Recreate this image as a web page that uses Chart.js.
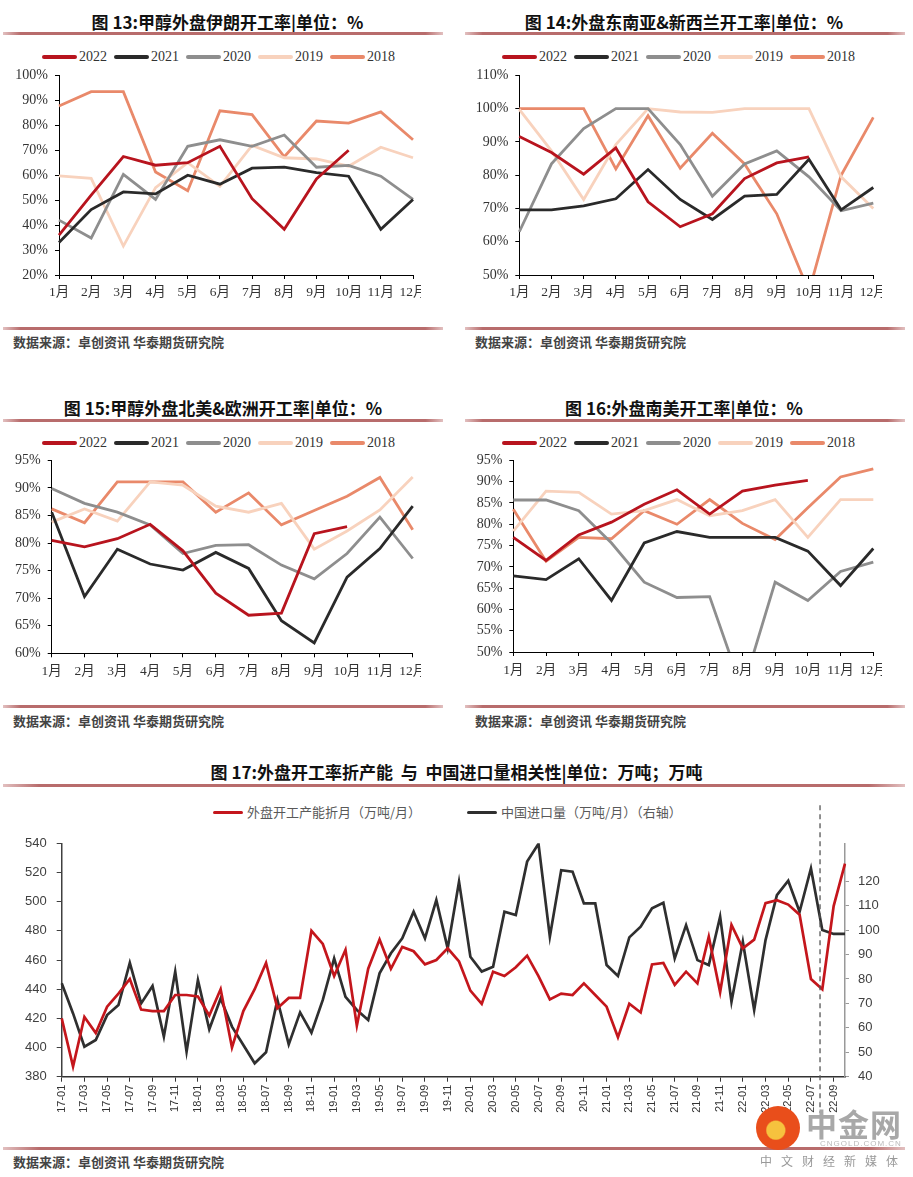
<!DOCTYPE html>
<html>
<head>
<meta charset="utf-8">
<script src="https://cdn.jsdelivr.net/npm/chart.js@4.4.1/dist/chart.umd.min.js"></script>
<style>
body{margin:0;background:#fff;}
#page{position:relative;width:913px;height:1177px;overflow:hidden;font-family:"Noto Sans CJK SC",sans-serif;}
.title{position:absolute;text-align:center;font-weight:bold;font-size:17px;color:#111;line-height:20px;white-space:nowrap}
.rule{position:absolute;height:3px;background:linear-gradient(to right,#e2c0c0,#b86c6c 4%,#b86c6c 96%,#e2c0c0)}
.src{position:absolute;font-size:13px;font-weight:bold;color:#444;white-space:nowrap;line-height:16px}
.legend{position:absolute;display:flex;align-items:center;white-space:nowrap;font-family:"Liberation Serif","Noto Sans CJK SC",serif;font-size:14px;color:#333;line-height:16px}
.legend .sw{display:inline-block;width:35px;height:3.5px;border-radius:2px;margin-right:2px}
.legend .it{display:flex;align-items:center;margin-right:7px}
#l17{font-family:"Noto Sans CJK SC",sans-serif;font-size:13px;color:#595959}
#l17 .sw{width:30px;height:3px;margin-right:4px}
#l17 .it{margin-right:46px}
canvas{position:absolute}
.wm{position:absolute;white-space:nowrap}
</style>
</head>
<body>
<div id="page">
  <div class="title" style="left:0;width:455px;top:12px">图 13:甲醇外盘伊朗开工率|单位：%</div>
  <div class="title" style="left:455px;width:458px;top:12px">图 14:外盘东南亚&amp;新西兰开工率|单位：%</div>
  <div class="rule" style="left:3px;width:440px;top:32px"></div>
  <div class="rule" style="left:465px;width:440px;top:32px"></div>
  <div class="legend" id="l13" style="left:42px;top:49px"></div>
  <div class="legend" id="l14" style="left:502px;top:49px"></div>
  <canvas id="c13"></canvas>
  <canvas id="c14"></canvas>
  <div class="rule" style="left:3px;width:440px;top:327px"></div>
  <div class="rule" style="left:465px;width:440px;top:327px"></div>
  <div class="src" style="left:13px;top:334px">数据来源：卓创资讯 华泰期货研究院</div>
  <div class="src" style="left:475px;top:334px">数据来源：卓创资讯 华泰期货研究院</div>

  <div class="title" style="left:0;width:446px;top:398px">图 15:甲醇外盘北美&amp;欧洲开工率|单位：%</div>
  <div class="title" style="left:455px;width:458px;top:398px">图 16:外盘南美开工率|单位：%</div>
  <div class="rule" style="left:3px;width:440px;top:419px"></div>
  <div class="rule" style="left:465px;width:440px;top:419px"></div>
  <div class="legend" id="l15" style="left:42px;top:435px"></div>
  <div class="legend" id="l16" style="left:502px;top:435px"></div>
  <canvas id="c15"></canvas>
  <canvas id="c16"></canvas>
  <div class="rule" style="left:3px;width:440px;top:705px"></div>
  <div class="rule" style="left:465px;width:440px;top:705px"></div>
  <div class="src" style="left:13px;top:713px">数据来源：卓创资讯 华泰期货研究院</div>
  <div class="src" style="left:475px;top:713px">数据来源：卓创资讯 华泰期货研究院</div>

  <div class="title" style="left:0;width:913px;top:762px">图 17:外盘开工率折产能&nbsp; 与&nbsp; 中国进口量相关性|单位：万吨；万吨</div>
  <div class="rule" style="left:3px;width:902px;top:784px"></div>
  <div class="legend" id="l17" style="left:213px;top:804px"></div>
  <canvas id="c17"></canvas>
  <div class="rule" style="left:3px;width:902px;top:1147px"></div>
  <div class="src" style="left:13px;top:1154px">数据来源：卓创资讯 华泰期货研究院</div>

  <div class="wm" style="left:756px;top:1106px;width:44px;height:44px;border-radius:50%;background:radial-gradient(circle at 45% 55%,#f6c23e 0 26%,#e94e1b 30%)"></div>
  <div class="wm" style="left:806px;top:1100px;font-size:31px;font-weight:bold;color:#a8a8a8;letter-spacing:1px">中金网</div>
  <div class="wm" style="left:820px;top:1139px;font-size:8px;color:#bbb;letter-spacing:1px;font-family:'Liberation Sans'">CNGOLD.COM.CN</div>
  <div class="wm" style="left:760px;top:1152px;font-size:12px;color:#999;letter-spacing:9px">中文财经新媒体</div>
</div>
<script>
// ---- data ----
var months = ["1月","2月","3月","4月","5月","6月","7月","8月","9月","10月","11月","12月"];
var years = ["2022","2021","2020","2019","2018"];
var yearColors = ["#b8141e","#2a2a2a","#8e8e8e","#f8d2bd","#e9896a"];

// 图13 伊朗
var iran2022 = [36, 52, 67.5, 64, 65, 71.6, 50.6, 38.3, 58.5, 70];
var iran2021 = [33, 46.2, 53.3, 52.5, 60, 56.4, 62.8, 63.2, 61, 59.6, 38.3, 50.3];
var iran2020 = [42, 34.8, 60.3, 50.3, 71.6, 74.2, 71.6, 76.1, 63.2, 63.9, 59.6, 50.3];
var iran2019 = [59.7, 58.7, 31.6, 55, 65, 55.5, 71.9, 67, 66.5, 63.6, 71.2, 67];
var iran2018 = [87.7, 93.5, 93.5, 61.3, 53.8, 85.8, 84.3, 67.4, 81.7, 80.9, 85.4, 74.2];

// 图14 东南亚&新西兰
var sea2022 = [91.6, 86.8, 80.3, 88.2, 72, 64.5, 68.4, 79, 83.7, 85.5];
var sea2021 = [69.6, 69.6, 70.8, 72.9, 81.7, 72.7, 66.7, 73.7, 74.2, 84.8, 69.6, 76.3];
var sea2020 = [63, 83.4, 94, 100, 100, 89.2, 73.7, 83.4, 87.3, 79.5, 69.3, 71.6];
var sea2019 = [99.8, 87.3, 72.7, 89.2, 100, 99, 98.9, 100, 100, 100, 79.5, 70];
var sea2018 = [100, 100, 100, 81.9, 97.9, 82.1, 92.6, 83.4, 68.4, 45, 80, 97.4];

// 图15 北美&欧洲
var nae2022 = [80.5, 79.3, 80.8, 83.4, 78.6, 70.9, 66.9, 67.3, 81.7, 83];
var nae2021 = [85.6, 70.3, 78.9, 76.2, 75.1, 78.3, 75.4, 65.9, 61.9, 73.8, 79, 86.7];
var nae2020 = [89.9, 87.2, 85.6, 83.3, 78.1, 79.6, 79.7, 76, 73.5, 78.1, 84.7, 77.2];
var nae2019 = [83.8, 86.2, 84, 91.1, 90.5, 86.7, 85.6, 87.2, 78.9, 82.2, 86, 92];
var nae2018 = [86.2, 83.7, 91.1, 91.1, 91.1, 85.6, 89.1, 83.3, 85.9, 88.5, 91.9, 82.4];

// 图16 南美
var sam2022 = [76.9, 71.5, 77.5, 80.5, 84.7, 88.1, 82.4, 87.8, 89.2, 90.3];
var sam2021 = [67.9, 67, 71.9, 62.1, 75.6, 78.3, 76.9, 76.9, 76.9, 73.7, 65.6, 74.3];
var sam2020 = [85.7, 85.7, 83.2, 75.6, 66.4, 62.8, 63, 41, 66.4, 62.1, 68.9, 71.1];
var sam2019 = [78.4, 87.8, 87.5, 82.4, 83.2, 85.8, 82, 83.2, 85.8, 76.9, 85.8, 85.8];
var sam2018 = [83.5, 71.3, 76.9, 76.6, 83.2, 80, 85.8, 80.2, 76.4, 83.9, 91.1, 93];

// 图17 2017-01 .. 2022-10
var months17 = [];
for (var yy = 17; yy <= 22; yy++) {
  for (var mm = 1; mm <= 12; mm++) {
    if (yy == 22 && mm > 10) break;
    months17.push(yy + "-" + (mm < 10 ? "0" + mm : mm));
  }
}
var capacity = [420, 387, 421, 410, 428, 437, 447, 426, 425, 425, 436, 436,
  435, 422, 440, 400, 425, 440, 458, 427, 434, 434, 480, 471,
  449, 467, 415, 454, 474, 454, 469, 466, 457, 460, 468, 459,
  439, 430, 452, 449, 455, 463, 449, 433, 437, 436, 444, 436,
  428, 407, 430, 424, 457, 458, 443, 452, 444, 476, 438, 484,
  468, 474, 499, 501, 498, 491, 447, 440, 497, 526];
var imports = [78.2, 65.9, 52.3, 55, 65.2, 69.3, 86.6, 70, 77.1, 56.4, 83, 50.2,
  79.5, 59.4, 72, 60.5, 53, 45.5, 50, 71.4, 53.2, 66.3, 58, 71.4,
  88.4, 72.7, 67.3, 63.2, 82.3, 90.5, 96.6, 107.5, 96.6, 112.3, 92.5, 119.8,
  89.1, 83, 85, 107.5, 106.1, 128, 135.3, 97.3, 124.5, 123.9, 110.9, 110.9,
  85.7, 81.2, 97, 101.4, 108.9, 111.2, 88.4, 102, 87.7, 85.7, 105.5, 70.7,
  95.2, 67.3, 95.9, 114.3, 120.2, 107.5, 125.2, 100, 98.4, 98.4];
var names17 = ["外盘开工产能折月（万吨/月）", "中国进口量（万吨/月）（右轴）"];
var colors17 = ["#c4161c", "#2f2f2f"];
var dividerAt = 66.8;

// ---- drawing ----
var serif = '"Liberation Serif", "Noto Sans CJK SC", serif';
var sans = '"Liberation Sans", "Noto Sans CJK SC", sans-serif';

function buildLegend(id, names, colors) {
  var el = document.getElementById(id);
  names.forEach(function(n, i) {
    var it = document.createElement("span");
    it.className = "it";
    it.innerHTML = '<span class="sw" style="background:' + colors[i] + '"></span>' + n;
    el.appendChild(it);
  });
}

function monthChart(id, box, yMin, yMax, yStep, series) {
  var cv = document.getElementById(id);
  cv.width = box.w; cv.height = box.h;
  cv.style.left = box.x + "px"; cv.style.top = box.y + "px";
  new Chart(cv, {
    type: "line",
    data: {
      labels: months,
      datasets: series.map(function(d, i) {
        return {label: years[i], data: d, borderColor: yearColors[i], backgroundColor: yearColors[i],
          borderWidth: 2.8, pointRadius: 0, tension: 0, fill: false};
      })
    },
    options: {
      responsive: false, animation: false, events: [],
      layout: {padding: {top: box.pt, right: box.pr, left: 0, bottom: 0}},
      plugins: {legend: {display: false}, tooltip: {enabled: false}},
      scales: {
        x: {
          offset: false,
          grid: {drawOnChartArea: false, tickLength: 4, color: "#000"},
          border: {color: "#000"},
          ticks: {padding: box.xp, color: "#333", font: {family: serif, size: 13.5}, maxRotation: 0, autoSkip: false},
          afterFit: function(s) { s.height = box.xh; s.paddingLeft = 0; s.paddingRight = 0; }
        },
        y: {
          min: yMin, max: yMax,
          grid: {drawOnChartArea: false, tickLength: 4, color: "#000"},
          border: {color: "#000"},
          ticks: {stepSize: yStep, padding: 7, color: "#333", font: {family: serif, size: 14},
            callback: function(v) { return v + "%"; }},
          afterFit: function(s) { s.width = box.yw; }
        }
      }
    }
  });
}

["l13", "l14", "l15", "l16"].forEach(function(id) { buildLegend(id, years, yearColors); });
buildLegend("l17", names17, colors17);

monthChart("c13", {x:0, y:60, w:421, h:245, pt:8, pr:8, yw:59, xh:30, xp:5}, 20, 100, 10,
  [iran2022, iran2021, iran2020, iran2019, iran2018]);
monthChart("c14", {x:455, y:60, w:427, h:245, pt:8, pr:8.7, yw:64.3, xh:30, xp:5}, 50, 110, 10,
  [sea2022, sea2021, sea2020, sea2019, sea2018]);
monthChart("c15", {x:0, y:445, w:421, h:245, pt:7.7, pr:8.3, yw:51.7, xh:36.7, xp:6}, 60, 95, 5,
  [nae2022, nae2021, nae2020, nae2019, nae2018]);
monthChart("c16", {x:455, y:445, w:427, h:245, pt:7.7, pr:8.7, yw:58.3, xh:38, xp:6}, 50, 95, 5,
  [sam2022, sam2021, sam2020, sam2019, sam2018]);

var dividerPlugin = {
  id: "divider",
  afterDatasetsDraw: function(chart) {
    var x = chart.scales.x.getPixelForValue(dividerAt);
    var ctx = chart.ctx;
    ctx.save();
    ctx.strokeStyle = "#555";
    ctx.lineWidth = 1.3;
    ctx.setLineDash([5, 4]);
    ctx.beginPath();
    ctx.moveTo(x, chart.chartArea.top - 38);
    ctx.lineTo(x, chart.chartArea.bottom + 36);
    ctx.stroke();
    ctx.restore();
  }
};

var c17 = document.getElementById("c17");
c17.width = 913; c17.height = 340;
c17.style.left = "0px"; c17.style.top = "790px";
new Chart(c17, {
  type: "line",
  data: {
    labels: months17,
    datasets: [
      {label: names17[0], data: capacity, yAxisID: "y", borderColor: colors17[0], backgroundColor: colors17[0],
        borderWidth: 2.7, pointRadius: 0, tension: 0},
      {label: names17[1], data: imports, yAxisID: "y1", borderColor: colors17[1], backgroundColor: colors17[1],
        borderWidth: 2.7, pointRadius: 0, tension: 0}
    ]
  },
  options: {
    responsive: false, animation: false, events: [],
    layout: {padding: {top: 53.3, left: 0, right: 0, bottom: 0}},
    plugins: {legend: {display: false}, tooltip: {enabled: false}},
    scales: {
      x: {
        offset: false,
        grid: {drawOnChartArea: false, tickLength: 5, color: "#333"},
        border: {color: "#333", width: 1.5},
        ticks: {autoSkip: false, minRotation: 90, maxRotation: 90, padding: 3, color: "#333",
          font: {family: sans, size: 11}},
        afterBuildTicks: function(s) { s.ticks = s.ticks.filter(function(t) { return t.value % 2 === 0; }); },
        afterFit: function(s) { s.height = 53.3; s.paddingLeft = 0; s.paddingRight = 0; }
      },
      y: {
        position: "left", min: 380, max: 540,
        grid: {drawOnChartArea: false, tickLength: 5, color: "#404040"},
        border: {color: "#404040", width: 1.5},
        ticks: {stepSize: 20, padding: 10, color: "#404040", font: {family: sans, size: 13}},
        afterFit: function(s) { s.width = 61.7; }
      },
      y1: {
        position: "right", min: 40, max: 135.5,
        grid: {drawOnChartArea: false, tickLength: 4, color: "#999"},
        border: {color: "#999", width: 1.5},
        ticks: {stepSize: 10, padding: 9, color: "#404040", font: {family: sans, size: 13}},
        afterBuildTicks: function(s) { s.ticks = s.ticks.filter(function(t) { return t.value % 10 === 0; }); },
        afterFit: function(s) { s.width = 68; }
      }
    }
  },
  plugins: [dividerPlugin]
});
</script>
</body>
</html>
